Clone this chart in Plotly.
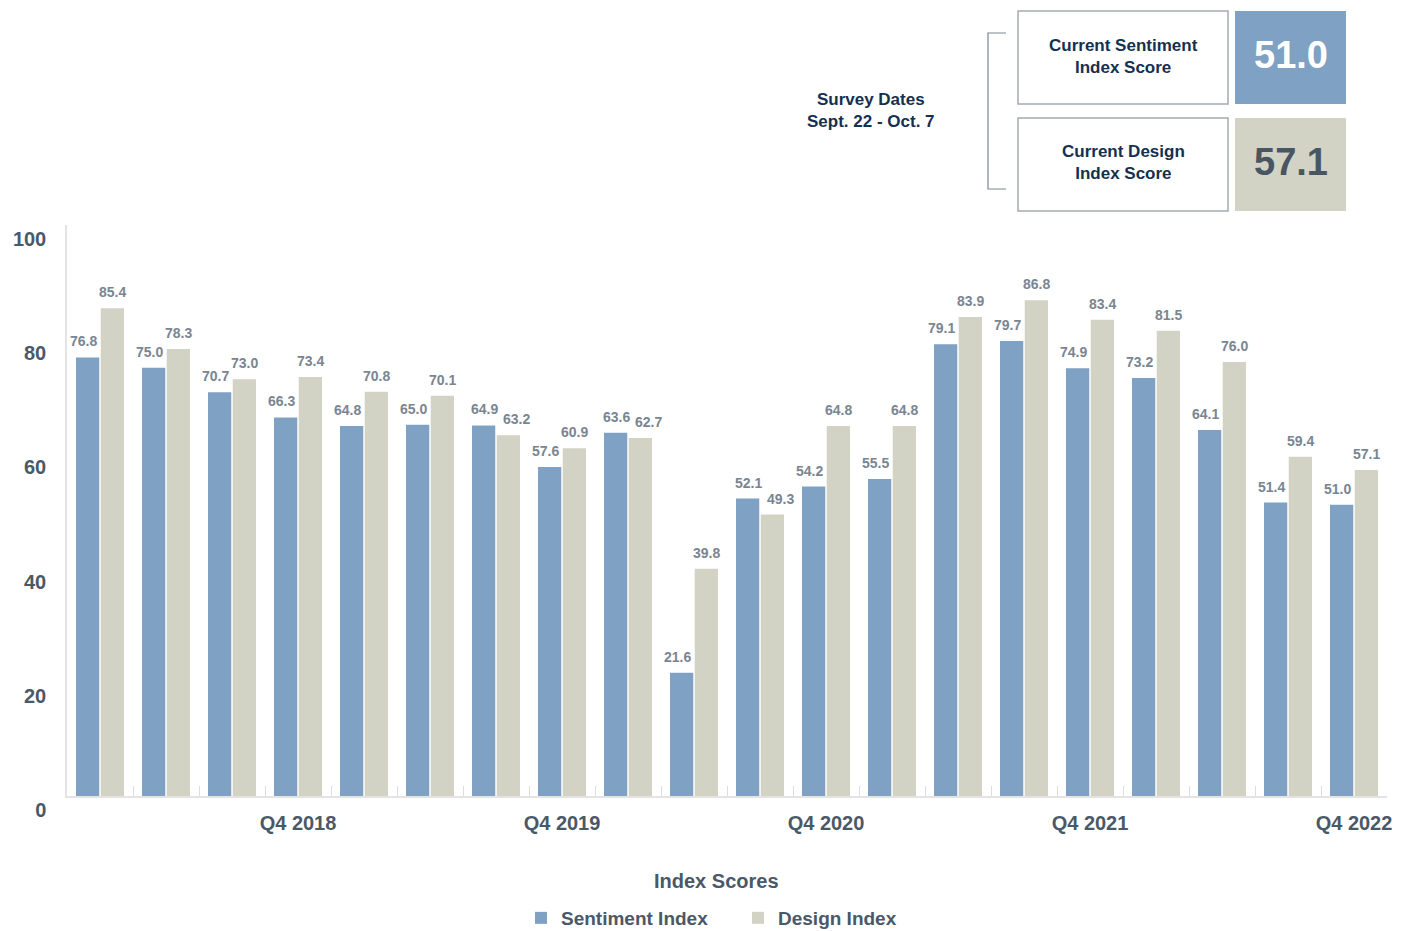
import plotly.graph_objects as go

quarters = [f"Q{q} {y}" for y in range(2018, 2023) for q in range(1, 5)]
sentiment = [76.8, 75.0, 70.7, 66.3, 64.8, 65.0, 64.9, 57.6, 63.6, 21.6,
             52.1, 54.2, 55.5, 79.1, 79.7, 74.9, 73.2, 64.1, 51.4, 51.0]
design = [85.4, 78.3, 73.0, 73.4, 70.8, 70.1, 63.2, 60.9, 62.7, 39.8,
          49.3, 64.8, 64.8, 83.9, 86.8, 83.4, 81.5, 76.0, 59.4, 57.1]
tick_labels = [q if q.startswith("Q4") else "" for q in quarters]
y_ticks = [0, 20, 40, 60, 80, 100]

BLUE = "#7fa1c3"
BEIGE = "#d2d3c4"
NAVY = "#15304f"
AXIS_TXT = "#4a5868"
VAL_TXT = "#7a8592"
FONT = "Liberation Sans, Arial, sans-serif"

OFF = 8  # page body margin
W, H = 1406 - OFF, 931 - OFF
L, R, T, B = 67 - OFF, 19, 225 - OFF, 135
PW, PH = W - L - R, H - T - B


def px(x):
    return (x - OFF - L) / PW


def py(y):
    return (H - B - (y - OFF)) / PH


fig = go.Figure()
fig.add_trace(go.Bar(name="Sentiment Index", x=quarters, y=sentiment,
                     marker=dict(color=BLUE, line=dict(width=0))))
fig.add_trace(go.Bar(name="Design Index", x=quarters, y=design,
                     marker=dict(color=BEIGE, line=dict(width=0))))

annotations = []
for q, s, d in zip(quarters, sentiment, design):
    close = 0 <= s - d < 3
    annotations.append(dict(x=q, y=s, xref="x", yref="y", text=f"{s:.1f}",
                            showarrow=False, xshift=-12 if close else -17, yshift=6,
                            yanchor="bottom",
                            font=dict(family=FONT, size=14, color=VAL_TXT, weight="bold")))
    annotations.append(dict(x=q, y=d, xref="x", yref="y", text=f"{d:.1f}",
                            showarrow=False, xshift=20 if close else 12, yshift=6,
                            yanchor="bottom",
                            font=dict(family=FONT, size=14, color=VAL_TXT, weight="bold")))


def note(x, y, text, size, color):
    return dict(x=px(x), y=py(y), xref="paper", yref="paper", showarrow=False,
                xanchor="center", yanchor="middle", align="center", text=text,
                font=dict(family=FONT, size=size, color=color, weight="bold"))


annotations += [
    note(871, 110, "Survey Dates<br>Sept. 22 - Oct. 7", 17, NAVY),
    note(1123, 56, "Current Sentiment<br>Index Score", 17, NAVY),
    note(1123, 163, "Current Design<br>Index Score", 17, NAVY),
    note(1290.5, 55, f"{sentiment[-1]:.1f}", 38, "white"),
    note(1290.5, 162, f"{design[-1]:.1f}", 38, "#4a5563"),
    note(716, 881, "Index Scores", 20, AXIS_TXT),
]

shapes = [
    dict(type="rect", xref="paper", yref="paper", x0=px(1018), x1=px(1228), layer="below",
         y0=py(104), y1=py(11), line=dict(color="#a3aab2", width=1.5), fillcolor="white"),
    dict(type="rect", xref="paper", yref="paper", x0=px(1018), x1=px(1228), layer="below",
         y0=py(211), y1=py(118), line=dict(color="#a3aab2", width=1.5), fillcolor="white"),
    dict(type="rect", xref="paper", yref="paper", x0=px(1235), x1=px(1346), layer="below",
         y0=py(104), y1=py(11), line=dict(width=0), fillcolor=BLUE),
    dict(type="rect", xref="paper", yref="paper", x0=px(1235), x1=px(1346), layer="below",
         y0=py(211), y1=py(118), line=dict(width=0), fillcolor=BEIGE),
    dict(type="path", xref="paper", yref="paper", layer="below",
         path=f"M {px(1006)},{py(33)} L {px(988)},{py(33)} L {px(988)},{py(189)} L {px(1006)},{py(189)}",
         line=dict(color="#7a8591", width=1.2)),
]

fig.update_layout(
    width=W, height=H,
    margin=dict(l=L, r=R, t=T, b=B, autoexpand=False),
    paper_bgcolor="white", plot_bgcolor="white",
    barmode="group", bargap=0.25, bargroupgap=0.06,
    font=dict(family=FONT),
    annotations=annotations,
    shapes=shapes,
    showlegend=True,
    legend=dict(orientation="h", x=px(738), xanchor="center", y=py(918), yanchor="middle",
                font=dict(family=FONT, size=19, color=AXIS_TXT, weight="bold"),
                entrywidth=172, entrywidthmode="pixels"),
    xaxis=dict(type="category", tickmode="array", tickvals=quarters, ticktext=tick_labels,
               tickson="boundaries", ticks="inside", ticklen=10, tickcolor="#dedede",
               showline=True, linecolor="#e3e3e3", linewidth=1.5, showgrid=False,
               tickangle=0, automargin=False,
               tickfont=dict(family=FONT, size=20, color=AXIS_TXT, weight="bold"),
               ticklabelstandoff=8),
    yaxis=dict(range=[0, 100], tickmode="array", tickvals=y_ticks,
               showline=True, linecolor="#e3e3e3", linewidth=1.5, showgrid=False,
               zeroline=False, ticks="", automargin=False,
               tickfont=dict(family=FONT, size=20, color=AXIS_TXT, weight="bold"),
               ticklabelstandoff=15, ticklabelshift=14),
)

fig.write_html("out.html")
